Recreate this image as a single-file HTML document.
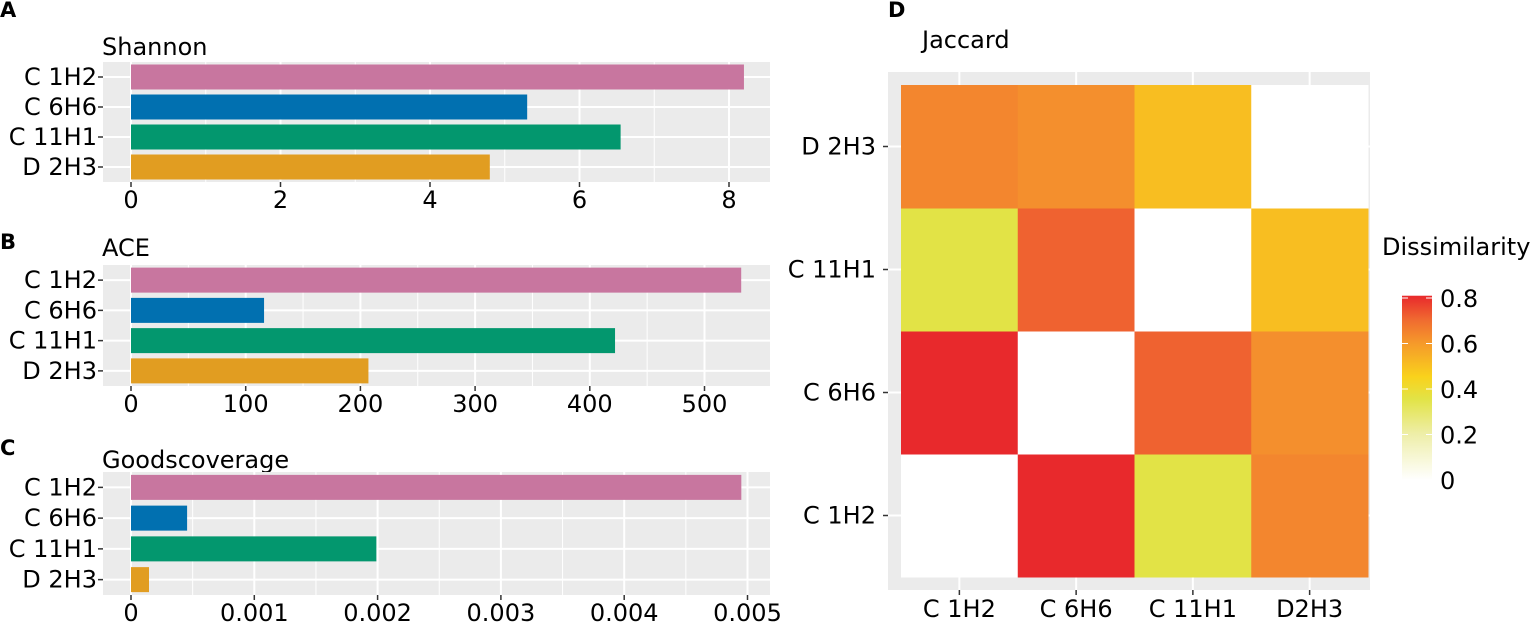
<!DOCTYPE html>
<html><head><meta charset="utf-8"><style>
html,body{margin:0;padding:0;background:#fff}
svg{display:block;font-family:"DejaVu Sans","Liberation Sans",sans-serif}
</style></head><body>
<svg id="chart" width="1535" height="622" viewBox="0 0 1535 622" xmlns="http://www.w3.org/2000/svg">
<defs>
<linearGradient id="cbar" x1="0" y1="1" x2="0" y2="0">
<stop offset="0" stop-color="#ffffff"/><stop offset="0.25" stop-color="#eeeea8"/><stop offset="0.44" stop-color="#e2e346"/><stop offset="0.56" stop-color="#f9d21c"/><stop offset="0.75" stop-color="#f5972b"/><stop offset="0.87" stop-color="#f06a30"/><stop offset="1" stop-color="#e8292c"/>
</linearGradient>
</defs>
<g id="bars"></g>
<g id="heat"></g>
</svg>
<script>
const samples = ["C 1H2","C 6H6","C 11H1","D 2H3"];
const barColors = ["#c8769f","#0170b0","#03976e","#e19d21"];
const shannonValues = [8.2, 5.3, 6.55, 4.8];
const shannonTicks = [0,2,4,6,8];
const aceValues = [532, 116, 422, 207];
const aceTicks = [0,100,200,300,400,500];
const goodsValues = [0.00495, 0.000455, 0.00199, 0.000146];
const goodsTicks = [0,0.001,0.002,0.003,0.004,0.005];
const goodsTickLabels = ["0","0.001","0.002","0.003","0.004","0.005"];
const heatX = ["C 1H2","C 6H6","C 11H1","D2H3"];
const heatY = ["C 1H2","C 6H6","C 11H1","D 2H3"];
const heatValues = [
  [0, 0.85, 0.35, 0.70],
  [0.85, 0, 0.75, 0.65],
  [0.35, 0.75, 0, 0.50],
  [0.70, 0.65, 0.50, 0]
];
const legendTicks = [0,0.2,0.4,0.6,0.8];

const NS="http://www.w3.org/2000/svg";
const FS=24;
function mk(tag, attrs, parent, text){
  const e=document.createElementNS(NS,tag);
  for(const k in attrs) e.setAttribute(k,attrs[k]);
  if(text!==undefined) e.textContent=text;
  parent.appendChild(e); return e;
}
const barsG=document.getElementById('bars');
const heatG=document.getElementById('heat');

function barPanel(cfg){
  const g=mk('g',{},barsG);
  
  
  const lt=mk('text',{x:0,y:cfg.letterY,'font-size':21,'font-weight':'bold'},g,cfg.letter);
  
  
  const tt=mk('text',{x:102,y:cfg.titleY,'font-size':FS},g,cfg.title);
  
  
  const bg=mk('rect',{x:103,y:cfg.top,width:667,height:cfg.bottom-cfg.top,fill:'#ebebeb'},g);
  
  
  const x=v=>131+v*cfg.scale;
  for(let i=0;i<cfg.ticks.length;i++){
    const t=cfg.ticks[i];
    if(i<cfg.ticks.length-1){
      const m=(t+cfg.ticks[i+1])/2;
      mk('line',{x1:x(m),x2:x(m),y1:cfg.top,y2:cfg.bottom,stroke:'#fff','stroke-width':1},g);
    }
    mk('line',{x1:x(t),x2:x(t),y1:cfg.top,y2:cfg.bottom,stroke:'#fff','stroke-width':2},g);
  }
  const step=(cfg.bottom-cfg.top)/4;
  samples.forEach((s,i)=>{
    const cy=cfg.top+step*(i+0.5);
    mk('line',{x1:103,x2:770,y1:cy,y2:cy,stroke:'#fff','stroke-width':2},g);
  });
  samples.forEach((s,i)=>{
    const cy=cfg.top+step*(i+0.5);
    const r=mk('rect',{x:x(0),y:cy-12.5,width:x(cfg.values[i])-x(0),height:25,fill:barColors[i]},g);
    
    
    mk('line',{x1:98,x2:103,y1:cy,y2:cy,stroke:'#333','stroke-width':1.5},g);
    const l=mk('text',{x:97,y:cy+8,'font-size':FS,'text-anchor':'end'},g,s);
    
    
  });
  cfg.ticks.forEach((t,i)=>{
    mk('line',{x1:x(t),x2:x(t),y1:cfg.bottom,y2:cfg.bottom+5,stroke:'#333','stroke-width':1.5},g);
    const l=mk('text',{x:x(t),y:cfg.bottom+26,'font-size':FS,'text-anchor':'middle'},g,cfg.labels?cfg.labels[i]:String(t));
    
    
  });
}
barPanel({name:'shannon',letter:'A',letterY:17,title:'Shannon',titleY:55,top:62,bottom:182,scale:74.75,values:shannonValues,ticks:shannonTicks});
barPanel({name:'ace',letter:'B',letterY:249,title:'ACE',titleY:256,top:265,bottom:386,scale:1.147,values:aceValues,ticks:aceTicks});
barPanel({name:'goodscoverage',letter:'C',letterY:455,title:'Goodscoverage',titleY:468,top:472,bottom:595,scale:123300,values:goodsValues,ticks:goodsTicks,labels:goodsTickLabels});

const stops=[[0,[255,255,255]],[0.2,[238,238,168]],[0.35,[226,227,70]],[0.45,[249,210,28]],[0.6,[245,151,43]],[0.7,[243,134,46]],[0.75,[239,98,48]],[0.85,[232,41,44]]];
function color(v){
  if(v<=0) return '#ffffff';
  for(let i=1;i<stops.length;i++){
    if(v<=stops[i][0]){
      const a=stops[i-1],b=stops[i],f=(v-a[0])/(b[0]-a[0]);
      return 'rgb('+a[1].map((c,j)=>Math.round(c+(b[1][j]-c)*f)).join(',')+')';
    }
  }
  return 'rgb(232,41,44)';
}
const L=mk('text',{x:888,y:17,'font-size':21,'font-weight':'bold'},heatG,'D');


const jt=mk('text',{x:922,y:48,'font-size':FS},heatG,'Jaccard');


const hb=mk('rect',{x:888,y:72,width:482,height:518,fill:'#ebebeb'},heatG);


const X0=901,X1=1368,Y0=85,Y1=577;
const cw=(X1-X0)/heatX.length, ch=(Y1-Y0)/heatY.length;
const hx=i=>X0+cw*i, hy=j=>Y1-ch*(j+1);
heatX.forEach((s,i)=>{mk('line',{x1:hx(i)+cw/2,x2:hx(i)+cw/2,y1:72,y2:590,stroke:'#fff','stroke-width':2},heatG);});
heatY.forEach((s,j)=>{mk('line',{x1:888,x2:1370,y1:hy(j)+ch/2,y2:hy(j)+ch/2,stroke:'#fff','stroke-width':2},heatG);});
heatY.forEach((ry,j)=>{
  heatX.forEach((cx,i)=>{
    const r=mk('rect',{x:hx(i),y:hy(j),width:cw+0.5,height:ch+0.5,fill:color(heatValues[j][i])},heatG);
    
    
  });
});
heatY.forEach((s,j)=>{
  const cy=hy(j)+ch/2;
  mk('line',{x1:883,x2:888,y1:cy,y2:cy,stroke:'#333','stroke-width':1.5},heatG);
  const l=mk('text',{x:876,y:cy+8,'font-size':FS,'text-anchor':'end'},heatG,s);
  
  
});
heatX.forEach((s,i)=>{
  const cx=hx(i)+cw/2;
  mk('line',{x1:cx,x2:cx,y1:590,y2:595,stroke:'#333','stroke-width':1.5},heatG);
  const l=mk('text',{x:cx,y:617,'font-size':FS,'text-anchor':'middle'},heatG,s);
  
  
});
const lg=mk('g',{},heatG);


const lt=mk('text',{x:1382,y:255,'font-size':FS},lg,'Dissimilarity');


const lvy=v=>480-v*227.5;
mk('rect',{x:1402,y:lvy(0.81),width:30,height:lvy(0)-lvy(0.81),fill:'url(#cbar)'},lg);
legendTicks.forEach(t=>{
  const y=lvy(t);
  if(t>0){
    mk('line',{x1:1402,x2:1408,y1:y,y2:y,stroke:'#fff','stroke-width':1},lg);
    mk('line',{x1:1426,x2:1432,y1:y,y2:y,stroke:'#fff','stroke-width':1},lg);
  }
  const l=mk('text',{x:1440,y:y+9,'font-size':FS},lg,t===0?'0':String(t));
  
  
});
</script>
</body></html>
